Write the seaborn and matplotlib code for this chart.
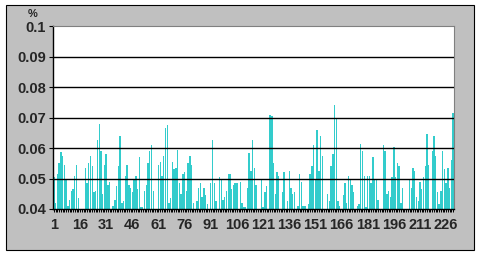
import matplotlib
matplotlib.use("Agg")
import matplotlib.pyplot as plt
import seaborn as sns
import pandas as pd
from matplotlib.patches import Rectangle

values = [
    0.0505, 0.042, 0.0515, 0.055, 0.0587, 0.0575, 0.0545, 0.050, 0.041, 0.043,
    0.046, 0.0465, 0.051, 0.0545, 0.0435, 0.039, 0.039, 0.039, 0.0535, 0.0485,
    0.055, 0.0575, 0.054, 0.0455, 0.046, 0.0625, 0.068, 0.059, 0.045, 0.0545,
    0.058, 0.048, 0.049, 0.039, 0.041, 0.043, 0.0475, 0.054, 0.064, 0.042,
    0.0425, 0.051, 0.0545, 0.048, 0.047, 0.0455, 0.0495, 0.051, 0.0465, 0.057,
    0.0405, 0.0405, 0.046, 0.048, 0.055, 0.059, 0.061, 0.046, 0.039, 0.039,
    0.0545, 0.0555, 0.051, 0.0575, 0.0665, 0.0675, 0.042, 0.0435, 0.0555, 0.053,
    0.0535, 0.0595, 0.0485, 0.045, 0.0515, 0.052, 0.046, 0.055, 0.0575, 0.0545,
    0.042, 0.039, 0.0425, 0.047, 0.0485, 0.044, 0.047, 0.0445, 0.0415, 0.039,
    0.0485, 0.0625, 0.0485, 0.0425, 0.039, 0.0505, 0.050, 0.043, 0.044, 0.046,
    0.0515, 0.0515, 0.0465, 0.048, 0.0485, 0.0485, 0.039, 0.049, 0.042, 0.0405,
    0.0405, 0.047, 0.0585, 0.0525, 0.0625, 0.0535, 0.048, 0.039, 0.039, 0.0495,
    0.0405, 0.0455, 0.0475, 0.039, 0.071, 0.0705, 0.055, 0.045, 0.052, 0.051,
    0.039, 0.0455, 0.052, 0.039, 0.0425, 0.0525, 0.047, 0.045, 0.0455, 0.039,
    0.041, 0.0515, 0.049, 0.041, 0.041, 0.039, 0.0415, 0.0515, 0.054, 0.061,
    0.050, 0.066, 0.0525, 0.064, 0.0575, 0.039, 0.039, 0.045, 0.0425, 0.054,
    0.058, 0.074, 0.0695, 0.0425, 0.041, 0.039, 0.0445, 0.0485, 0.042, 0.051,
    0.050, 0.048, 0.0455, 0.039, 0.041, 0.0415, 0.0615, 0.059, 0.051, 0.0405,
    0.051, 0.051, 0.0485, 0.057, 0.0495, 0.0495, 0.043, 0.039, 0.039, 0.061,
    0.059, 0.045, 0.046, 0.044, 0.0505, 0.0605, 0.0505, 0.055, 0.054, 0.042,
    0.047, 0.039, 0.039, 0.039, 0.0495, 0.047, 0.0535, 0.0525, 0.044, 0.0425,
    0.049, 0.0465, 0.0505, 0.054, 0.0645, 0.0545, 0.039, 0.059, 0.064, 0.0575,
    0.0455, 0.0415, 0.046, 0.059, 0.053, 0.0485, 0.0535, 0.047, 0.056, 0.0715,
]
categories = list(range(1, len(values) + 1))
label_step = 15
y_ticks = [0.04, 0.05, 0.06, 0.07, 0.08, 0.09, 0.1]
y_tick_labels = ["0.04", "0.05", "0.06", "0.07", "0.08", "0.09", "0.1"]
unit_label = "%"

sns.set_style("white")
plt.rcParams['font.family'] = ['Liberation Sans', 'DejaVu Sans']

W, H = 481, 256
fig = plt.figure(figsize=(W / 100, H / 100), dpi=100, facecolor="white")
frame = Rectangle((5.5 / W, 1 - 249.5 / H), 469 / W, 244.5 / H,
                  transform=fig.transFigure, facecolor="#C0C0C0",
                  edgecolor="black", linewidth=0.8, zorder=-10)
fig.patches.append(frame)

ax = fig.add_axes([53 / W, 1 - 209 / H, 401 / W, (209 - 26.3) / H])
ax.set_zorder(5)
ax.set_facecolor("white")

df = pd.DataFrame({"cat": [str(c) for c in categories], "val": values})
sns.barplot(data=df, x="cat", y="val", color="#33CCCC", saturation=1,
            width=0.8, linewidth=0, ax=ax, order=df["cat"].tolist())
for p in ax.patches:
    p.set_antialiased(False)

ax.set_ylim(0.04, 0.1)
ax.set_xlim(-0.5, len(values) - 0.5)
for yv in y_ticks[1:-1]:
    ax.axhline(yv, color="black", linewidth=1.0, zorder=3)

ax.set_yticks(y_ticks)
ax.set_yticklabels(y_tick_labels, fontsize=10.5, fontweight="bold")
ax.set_xticks(range(len(values)))
ax.set_xticklabels([str(c) if (c - 1) % label_step == 0 else "" for c in categories],
                   fontsize=10.5, fontweight="bold")
ax.tick_params(axis="y", direction="out", length=3, width=0.8, pad=2, left=True, color="black")
ax.tick_params(axis="x", direction="out", length=2.5, width=0.7, pad=4, bottom=True, color="black")
ax.set_xlabel("")
ax.set_ylabel("")

for side in ["left", "bottom"]:
    ax.spines[side].set_color("black")
    ax.spines[side].set_linewidth(1.0)
for side in ["top", "right"]:
    ax.spines[side].set_visible(True)
    ax.spines[side].set_color("#808080")
    ax.spines[side].set_linewidth(0.8)

fig.text(33 / W, 1 - 14 / H, unit_label, fontsize=8, fontweight="bold",
         ha="center", va="center", zorder=6)

fig.savefig("out.png", dpi=100, facecolor=fig.get_facecolor())
